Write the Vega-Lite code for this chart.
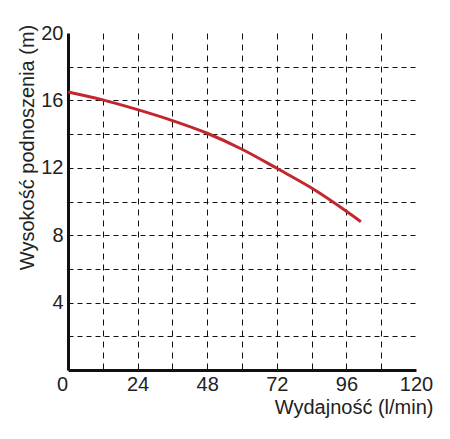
{
  "$schema": "https://vega.github.io/schema/vega-lite/v6.json",
  "width": 348,
  "height": 337,
  "autosize": "none",
  "padding": {"left": 68, "top": 33, "right": 34, "bottom": 69},
  "config": {
    "view": {"stroke": null},
    "font": "Liberation Sans",
    "axis": {
      "domainColor": "#111",
      "domainWidth": 3,
      "ticks": false,
      "gridColor": "#111",
      "gridWidth": 1,
      "gridOpacity": 1,
      "labelFont": "Liberation Sans",
      "labelFontSize": 20,
      "labelColor": "#222",
      "titleFont": "Liberation Sans",
      "titleFontSize": 20,
      "titleFontWeight": "normal",
      "titleColor": "#222"
    }
  },
  "data": {
    "values": [
      {"flow": 0, "head": 16.5},
      {"flow": 12, "head": 16.03},
      {"flow": 24, "head": 15.45},
      {"flow": 36, "head": 14.8},
      {"flow": 48, "head": 14.05},
      {"flow": 60, "head": 13.1},
      {"flow": 72, "head": 11.97},
      {"flow": 84, "head": 10.8},
      {"flow": 96, "head": 9.42},
      {"flow": 101, "head": 8.8}
    ]
  },
  "mark": {"type": "line", "color": "#c1272d", "strokeWidth": 3, "interpolate": "monotone"},
  "encoding": {
    "x": {
      "field": "flow",
      "type": "quantitative",
      "scale": {"domain": [0, 120], "nice": false},
      "axis": {
        "values": [0, 12, 24, 36, 48, 60, 72, 84, 96, 108, 120],
        "labelExpr": "datum.value % 24 == 0 ? datum.label : ''",
        "labelPadding": 4,
        "labelOffset": {"condition": {"test": "datum.value == 0", "value": -6}, "value": 0},
        "labelFlush": false,
        "gridDash": [6, 5],
        "gridOpacity": {"condition": {"test": "datum.value == 0 || datum.value == 120", "value": 0}, "value": 1},
        "title": "Wydajność (l/min)",
        "titleX": 365,
        "titleY": 27,
        "titleAlign": "right",
        "titleBaseline": "top"
      }
    },
    "y": {
      "field": "head",
      "type": "quantitative",
      "scale": {"domain": [0, 20], "nice": false},
      "axis": {
        "values": [0, 2, 4, 6, 8, 10, 12, 14, 16, 18, 20],
        "labelExpr": "datum.value % 4 == 0 && datum.value > 0 ? datum.label : ''",
        "labelPadding": 5,
        "labelFlush": false,
        "gridDash": [5, 4],
        "gridOpacity": {"condition": {"test": "datum.value == 0 || datum.value == 20", "value": 0}, "value": 1},
        "title": "Wysokość podnoszenia (m)",
        "titleX": -41,
        "titleY": 114,
        "titleAngle": 270,
        "titleAlign": "center",
        "titleBaseline": "middle"
      }
    }
  }
}
